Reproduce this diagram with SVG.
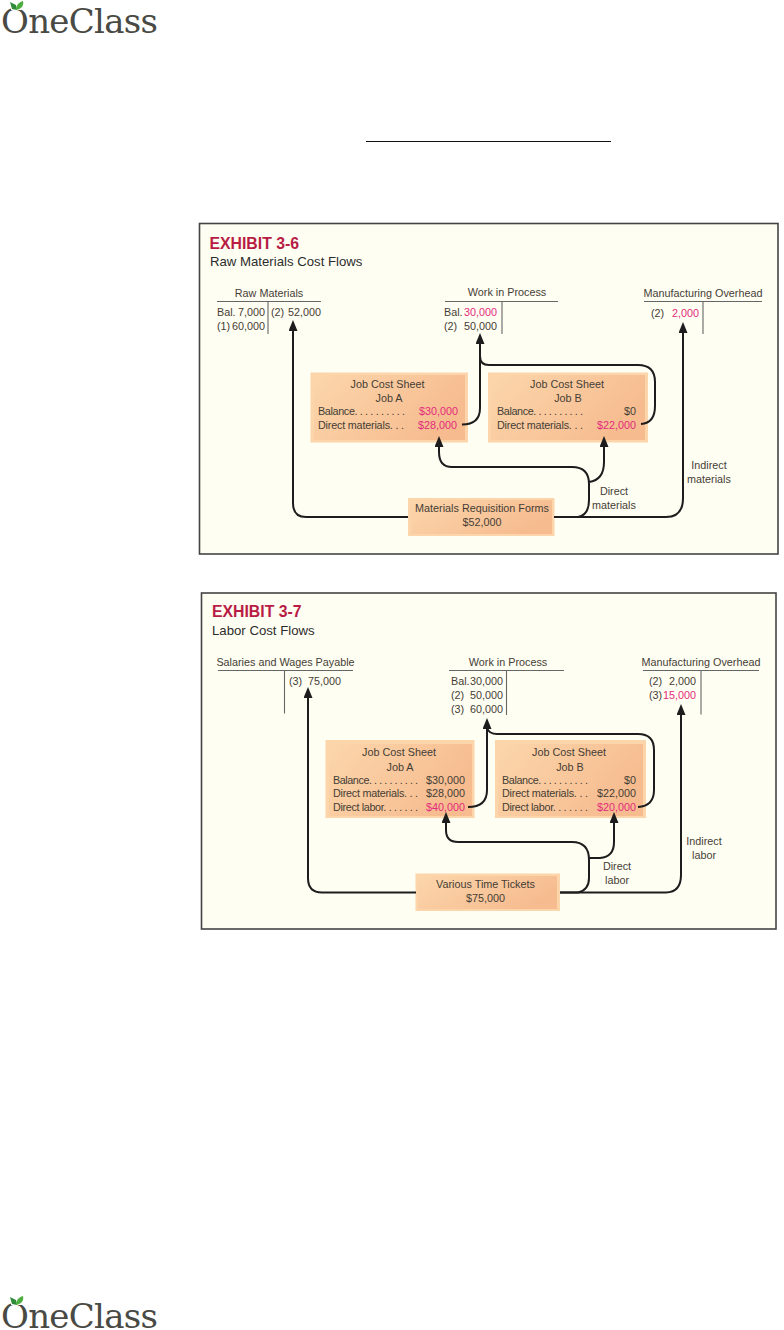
<svg xmlns="http://www.w3.org/2000/svg" width="784" height="1330" viewBox="0 0 784 1330">
<style>
text{font-family:"Liberation Sans",Arial,sans-serif;font-size:10.8px;fill:#453d35}
.m{text-anchor:middle}.e{text-anchor:end}
.pk{fill:#e32a7c}
.ttl{font-size:15.800px;font-weight:bold;fill:#b81c45}
.sub{font-size:13.200px;fill:#2c2c2c}
.logo{font-family:"DejaVu Serif",serif;font-size:34px;fill:#4a4a45}
.frame{fill:#fffef3;stroke:#444;stroke-width:1.6}
.t{stroke:#666;stroke-width:1.1;fill:none}
.o{fill:#fcd5aa}
.i{fill:url(#g)}
.c{fill:none;stroke:#1d1d1d;stroke-width:2;marker-end:url(#a)}
.n{fill:none;stroke:#1d1d1d;stroke-width:2}
</style>
<defs>
<linearGradient id="g" x1="0" y1="0" x2="1" y2="0.4"><stop offset="0" stop-color="#fcd6ab"/><stop offset="1" stop-color="#f6bc90"/></linearGradient>
<marker id="a" markerUnits="userSpaceOnUse" markerWidth="13" markerHeight="10" refX="2" refY="4.500" orient="auto"><path d="M0 0L11 4.500L0 9Z" fill="#1d1d1d"/></marker>
<g id="logoShape"><text class="logo" x="1" y="33" textLength="157" lengthAdjust="spacing">OneClass</text><rect x="11" y="3" width="14" height="7" fill="#fff"/><path d="M10 2l6 3l1 5l-5-1z" fill="#2f8a3a"/><path d="M16 10c0-5 3-8 7-9c1 4-1 8-7 9z" fill="#4cae3f"/></g>
</defs>
<rect width="784" height="1330" fill="#fff"/>
<g id="logo-top"><use href="#logoShape"/></g>
<g id="rule"><line x1="366" y1="141.500" x2="611" y2="141.500" stroke="#111" stroke-width="1.200"/></g>

<g id="exhibit-3-6">
<rect class="frame" x="199.500" y="223.500" width="578.500" height="330.500"/>
<text class="ttl" x="209.500" y="248.500">EXHIBIT 3-6</text>
<text class="sub" x="210" y="266">Raw Materials Cost Flows</text>
</g>
<g id="raw-materials">
<text class="m" x="269" y="297">Raw Materials</text>
<path class="t" d="M217 301.500H321M268 301.500V334"/>
<text x="217" y="315.500">Bal.</text><text class="e" x="265" y="315.500">7,000</text>
<text x="271" y="315.500">(2)</text><text class="e" x="321" y="315.500">52,000</text>
<text x="217" y="330">(1)</text><text class="e" x="265" y="330">60,000</text>
</g>
<g id="wip-1">
<text class="m" x="507" y="296">Work in Process</text>
<path class="t" d="M445 301.500H558M502 301.500V334"/>
<text x="444" y="315.500">Bal.</text><text class="e pk" x="497" y="315.500">30,000</text>
<text x="444" y="329.500">(2)</text><text class="e" x="497" y="329.500">50,000</text>
</g>
<g id="moh-1">
<text class="m" x="703" y="297">Manufacturing Overhead</text>
<path class="t" d="M644 301.500H762M703 301.500V334"/>
<text x="651" y="316.500">(2)</text><text class="e pk" x="699" y="316.500">2,000</text>
</g>
<g id="job-a-1">
<rect class="o" x="310.500" y="372.500" width="157.500" height="70"/><rect class="i" x="314" y="375" width="151" height="65"/>
<text class="m" x="387.500" y="388">Job Cost Sheet</text><text class="m" x="389" y="402">Job A</text>
<text x="318" y="415" textLength="87">Balance. . . . . . . . . .</text><text class="e pk" x="458" y="415">$30,000</text>
<text x="318" y="428.500" textLength="86">Direct materials. . .</text><text class="e pk" x="457" y="428.500">$28,000</text>
</g>
<g id="job-b-1">
<rect class="o" x="488" y="372.500" width="160" height="70"/><rect class="i" x="491" y="375" width="154" height="65"/>
<text class="m" x="567" y="388">Job Cost Sheet</text><text class="m" x="568" y="402">Job B</text>
<text x="497" y="415" textLength="86">Balance. . . . . . . . . .</text><text class="e" x="636" y="415">$0</text>
<text x="497" y="428.500" textLength="86">Direct materials. . .</text><text class="e pk" x="636" y="428.500">$22,000</text>
</g>
<g id="requisition">
<rect class="o" x="408" y="498" width="146.500" height="38"/><rect class="i" x="411" y="500" width="141" height="34"/>
<text class="m" x="482" y="512">Materials Requisition Forms</text><text class="m" x="482" y="526">$52,000</text>
</g>
<g id="connectors-1">
<path class="c" d="M408 517H306Q293 517 293 503V329"/>
<path class="c" d="M462 424.500Q480 424.500 480 408V342"/>
<path class="n" d="M641 424Q655 423 655 406V382Q655 365 638 365H489Q480 365 480 356"/>
<path class="c" d="M554 517H578Q589 515 589 500V484Q589 467 572 467H452Q439 467 439 452V445"/>
<path class="c" d="M589 482Q604 480 604 462V445"/>
<path class="c" d="M554 517H666Q683 517 683 498V331"/>
<text class="m" x="614" y="495">Direct</text><text class="m" x="614" y="508.500">materials</text>
<text class="m" x="709" y="469">Indirect</text><text class="m" x="709" y="483">materials</text>
</g>

<g id="exhibit-3-7">
<rect class="frame" x="201.500" y="593" width="574.500" height="336"/>
<text class="ttl" x="212" y="617">EXHIBIT 3-7</text>
<text class="sub" x="212" y="635">Labor Cost Flows</text>
</g>
<g id="salaries">
<text class="m" x="285.500" y="666">Salaries and Wages Payable</text>
<path class="t" d="M218 670.500H353M284.500 670.500V713.500"/>
<text x="289" y="684.500">(3)</text><text class="e" x="341" y="684.500">75,000</text>
</g>
<g id="wip-2">
<text class="m" x="508" y="666">Work in Process</text>
<path class="t" d="M449 670.500H564M506.500 670.500V715"/>
<text x="451" y="685">Bal.</text><text class="e" x="503" y="685">30,000</text>
<text x="451" y="699">(2)</text><text class="e" x="503" y="699">50,000</text>
<text x="451" y="712.500">(3)</text><text class="e" x="503" y="712.500">60,000</text>
</g>
<g id="moh-2">
<text class="m" x="701" y="666">Manufacturing Overhead</text>
<path class="t" d="M643 670.500H759M701 670.500V714.500"/>
<text x="649" y="685">(2)</text><text class="e" x="696" y="685">2,000</text>
<text x="649" y="699">(3)</text><text class="e pk" x="696" y="699">15,000</text>
</g>
<g id="job-a-2">
<rect class="o" x="325.500" y="740" width="149" height="78"/><rect class="i" x="329" y="744" width="143" height="72"/>
<text class="m" x="399" y="756">Job Cost Sheet</text><text class="m" x="400" y="770.500">Job A</text>
<text x="333" y="783.500" textLength="85">Balance. . . . . . . . . .</text><text class="e" x="465" y="783.500">$30,000</text>
<text x="333" y="797" textLength="85">Direct materials. . .</text><text class="e" x="465" y="797">$28,000</text>
<text x="333" y="811" textLength="85">Direct labor. . . . . . .</text><text class="e pk" x="465" y="811">$40,000</text>
</g>
<g id="job-b-2">
<rect class="o" x="495" y="740" width="151" height="78"/><rect class="i" x="498" y="744" width="145" height="72"/>
<text class="m" x="569" y="756">Job Cost Sheet</text><text class="m" x="570" y="770.500">Job B</text>
<text x="502" y="783.500" textLength="86">Balance. . . . . . . . . .</text><text class="e" x="636" y="783.500">$0</text>
<text x="502" y="797" textLength="86">Direct materials. . .</text><text class="e" x="636" y="797">$22,000</text>
<text x="502" y="811" textLength="86">Direct labor. . . . . . .</text><text class="e pk" x="636" y="811">$20,000</text>
</g>
<g id="time-tickets">
<rect class="o" x="415.500" y="873.500" width="144.500" height="37.500"/><rect class="i" x="418" y="876" width="139" height="33"/>
<text class="m" x="485.500" y="888">Various Time Tickets</text><text class="m" x="485.500" y="902">$75,000</text>
</g>
<g id="connectors-2">
<path class="c" d="M416 892.500H322Q308 892.500 308 878V696"/>
<path class="c" d="M468 807Q487 807 487 790V727"/>
<path class="n" d="M638 807Q654 806 654 790V750Q654 734 638 734H497Q489 734 487 728"/>
<path class="c" d="M560 892.500H578Q589 890 589 878V860Q589 842 572 842H458Q446 842 446 830V821"/>
<path class="c" d="M589 858H600Q614 857 614 842V821"/>
<path class="c" d="M560 892.500H666Q681 892 681 875V713"/>
<text class="m" x="617" y="870">Direct</text><text class="m" x="617" y="884">labor</text>
<text class="m" x="704" y="845">Indirect</text><text class="m" x="704" y="859">labor</text>
</g>
<g id="logo-bottom" transform="translate(0 1295)"><use href="#logoShape"/></g>
</svg>
